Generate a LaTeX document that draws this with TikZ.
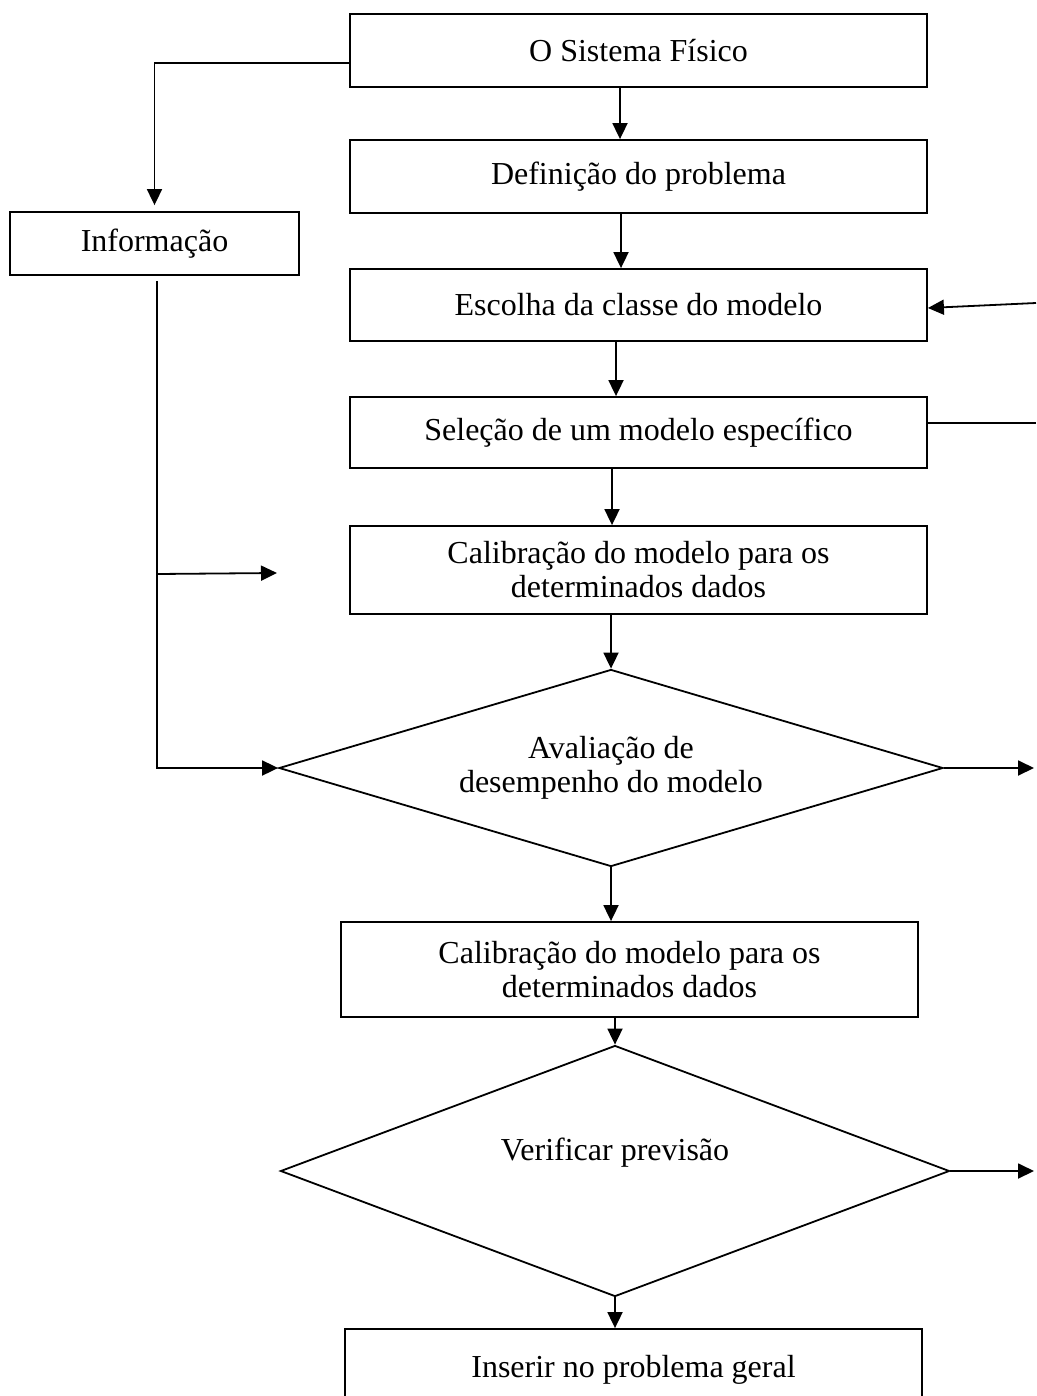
\documentclass[tikz,border=0pt]{standalone}
\usepackage{fontspec}
\setmainfont{Liberation Serif}
\usetikzlibrary{arrows.meta, calc, shapes.geometric}

\begin{document}
\begin{tikzpicture}[x=1pt, y=-1pt, line width=1.8pt,
    caixa/.style={rectangle, draw, minimum width=577pt, align=center, inner sep=0pt, font=\fontsize{32}{34}\selectfont},
    losango/.style={diamond, draw, inner sep=0pt, align=center, font=\fontsize{32}{34}\selectfont},
    seta/.style={-{Triangle[length=16pt, width=15pt]}}]
    \useasboundingbox (0,0) rectangle (1036,1396);

    \node[caixa, minimum height=73pt] (sis) at (638.5,50.5) {O Sistema Físico};
    \node[caixa, minimum height=73pt] (def) at (638.5,176.5) {Definição do problema};
    \node[caixa, minimum height=72pt] (esc) at (638.5,305) {Escolha da classe do modelo};
    \node[caixa, minimum height=71pt] (sel) at (638.5,432.5) {Seleção de um modelo específico};
    \node[caixa, minimum height=88pt] (cal1) at (638.5,570) {Calibração do modelo para os\\determinados dados};
    \node[losango, aspect=3.37, minimum width=664pt, minimum height=197pt] (ava) at (611,768) {Avaliação de\\desempenho do modelo};
    \node[caixa, minimum height=95pt] (cal2) at (629.5,969.5) {Calibração do modelo para os\\determinados dados};
    \node[losango, aspect=2.67, minimum width=669pt, minimum height=251pt] (ver) at (615,1171) {Verificar previsão\\ \strut};
    \node[caixa, minimum height=82pt] (ins) at (633.5,1370) {Inserir no problema geral};
    \node[caixa, minimum width=289pt, minimum height=63pt] (info) at (154.5,243.5) {Informação};

    \coordinate (ramo) at (157,574);
    \coordinate (ramofim) at (277,573);
    \coordinate (volta) at (1036,303);
    \coordinate (saida) at (1036,423);
    \coordinate (fim1) at (1034,768);
    \coordinate (fim2) at (1034,1171);

    \draw[seta] ([xshift=-18.5pt]sis.south) -- ([xshift=-18.5pt]def.north);
    \draw[seta] ([xshift=-17.5pt]def.south) -- ([xshift=-17.5pt]esc.north);
    \draw[seta] ([xshift=-22.5pt]esc.south) -- ([xshift=-22.5pt]sel.north);
    \draw[seta] ([xshift=-26.5pt]sel.south) -- ([xshift=-26.5pt]cal1.north);
    \draw[seta] (ava.north |- cal1.south) -- (ava.north);
    \draw[seta] (ava.south) -- (ava.south |- cal2.north);
    \draw[seta] (ver.north |- cal2.south) -- (ver.north);
    \draw[seta] (ver.south) -- (ver.south |- ins.north);

    \draw[seta, shorten >=6pt] ([yshift=-12.5pt]sis.west) -| (info.north);
    \draw[seta] ([xshift=2.5pt, yshift=-5pt]info.south) |- (ava.west);
    \draw[seta] (ramo) -- (ramofim);

    \draw[seta] (volta) -- ([yshift=-3pt]esc.east);
    \draw ([yshift=9.5pt]sel.east) -- (saida);
    \draw[seta] (ava.east) -- (fim1);
    \draw[seta] (ver.east) -- (fim2);
\end{tikzpicture}
\end{document}
